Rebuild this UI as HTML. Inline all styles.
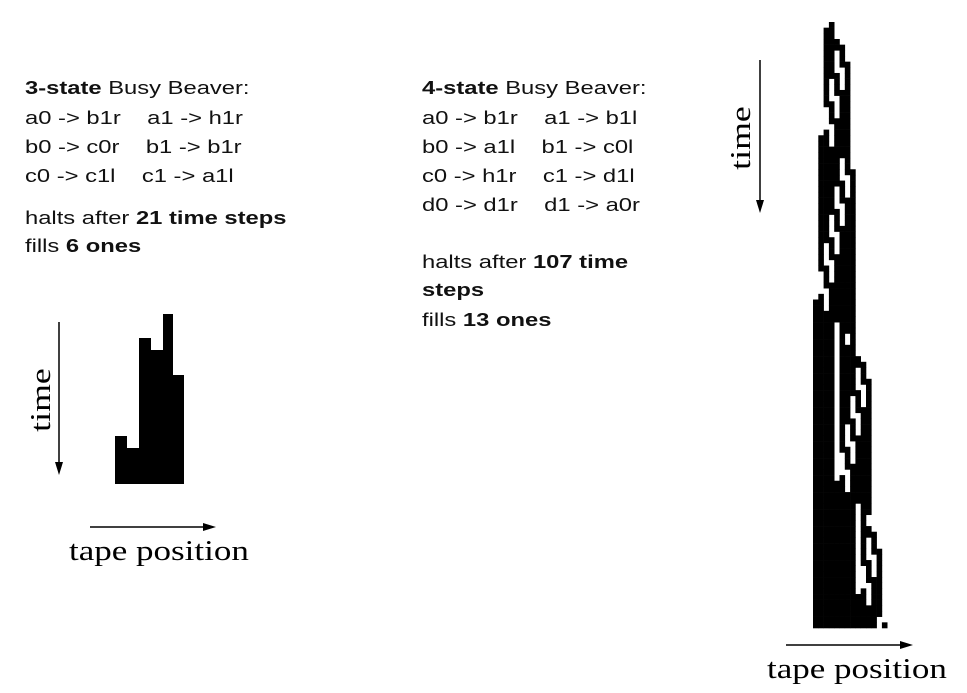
<!DOCTYPE html>
<html><head><style>
html,body{margin:0;padding:0;background:#fff;width:967px;height:693px;overflow:hidden;position:relative}
.t{position:absolute;font-family:"Liberation Sans",sans-serif;font-size:18px;color:#111;white-space:pre;line-height:20px;transform:scaleX(1.32);transform-origin:0 0}
.s{position:absolute;font-family:"Liberation Serif",serif;font-size:28px;color:#000;white-space:pre;line-height:30px;transform:scaleX(1.25);transform-origin:0 0}
</style></head><body>
<div class="t" style="left:25px;top:78px"><b>3-state</b> Busy Beaver:</div>
<div class="t" style="left:25px;top:108px">a0 -&gt; b1r    a1 -&gt; h1r</div>
<div class="t" style="left:25px;top:137px">b0 -&gt; c0r    b1 -&gt; b1r</div>
<div class="t" style="left:25px;top:166px">c0 -&gt; c1l    c1 -&gt; a1l</div>
<div class="t" style="left:25px;top:208px">halts after <b>21 time steps</b></div>
<div class="t" style="left:25px;top:236px">fills <b>6 ones</b></div>

<div class="t" style="left:422px;top:78px"><b>4-state</b> Busy Beaver:</div>
<div class="t" style="left:422px;top:108px">a0 -&gt; b1r    a1 -&gt; b1l</div>
<div class="t" style="left:422px;top:137px">b0 -&gt; a1l    b1 -&gt; c0l</div>
<div class="t" style="left:422px;top:166px">c0 -&gt; h1r    c1 -&gt; d1l</div>
<div class="t" style="left:422px;top:195px">d0 -&gt; d1r    d1 -&gt; a0r</div>
<div class="t" style="left:422px;top:252px">halts after <b>107 time</b></div>
<div class="t" style="left:422px;top:280px"><b>steps</b></div>
<div class="t" style="left:422px;top:310px">fills <b>13 ones</b></div>

<svg width="967" height="693" style="position:absolute;left:0;top:0">
<polygon fill="#000" points="115,436 127,436 127,448 139,448 139,338 151,338 151,350 163,350 163,314 173,314 173,375 184,375 184,484 115,484"/>
<line x1="59" y1="322" x2="59" y2="465" stroke="#000" stroke-width="1.5"/>
<polygon points="55,462 63,462 59,475"/>
<line x1="90" y1="527" x2="205" y2="527" stroke="#000" stroke-width="1.5"/>
<polygon points="203,523 203,531 216,527"/>
<line x1="760" y1="60" x2="760" y2="202" stroke="#000" stroke-width="1.5"/>
<polygon points="756,200 764,200 760,213"/>
<line x1="786" y1="645" x2="902" y2="645" stroke="#000" stroke-width="1.5"/>
<polygon points="900,641 900,649 913,645"/>
<g transform="translate(50 400) rotate(-90) scale(1.28 1)"><text x="0" y="0" text-anchor="middle" font-family="Liberation Serif,serif" font-size="28">time</text></g>
<g transform="translate(750 138) rotate(-90) scale(1.28 1)"><text x="0" y="0" text-anchor="middle" font-family="Liberation Serif,serif" font-size="28">time</text></g>
<g id="bb"></g>
</svg>
<div class="s" style="left:69px;top:537px">tape position</div>
<div class="s" style="left:767px;top:655px">tape position</div>
<script>
(function(){
var R={a0:[1,1,'b'],a1:[1,-1,'b'],b0:[1,-1,'a'],b1:[0,-1,'c'],c0:[1,1,'h'],c1:[1,-1,'d'],d0:[1,1,'d'],d1:[0,1,'a']};
var tape={},pos=0,st='a',rows=[],mn=0,mx=0;
for(var i=0;i<107&&st!='h';i++){
 var v=tape[pos]||0,r=R[st+v];tape[pos]=r[0];pos+=r[1];st=r[2];
 var row={};for(var k in tape){row[k]=tape[k];var n=+k;if(n<mn)mn=n;if(n>mx)mx=n;}
 rows.push(row);
}
var g=document.getElementById('bb');
var w=5.3,h=(628-22)/rows.length,html='';
for(var t=0;t<rows.length;t++){for(var k in rows[t]){if(rows[t][k]){
 var x=813+(mx-(+k))*w;
 html+='<rect x="'+x.toFixed(2)+'" y="'+(22+t*h).toFixed(2)+'" width="'+(w+0.3).toFixed(2)+'" height="'+(h+0.3).toFixed(2)+'"/>';
}}}
g.innerHTML=html;
})();
</script>
</body></html>
